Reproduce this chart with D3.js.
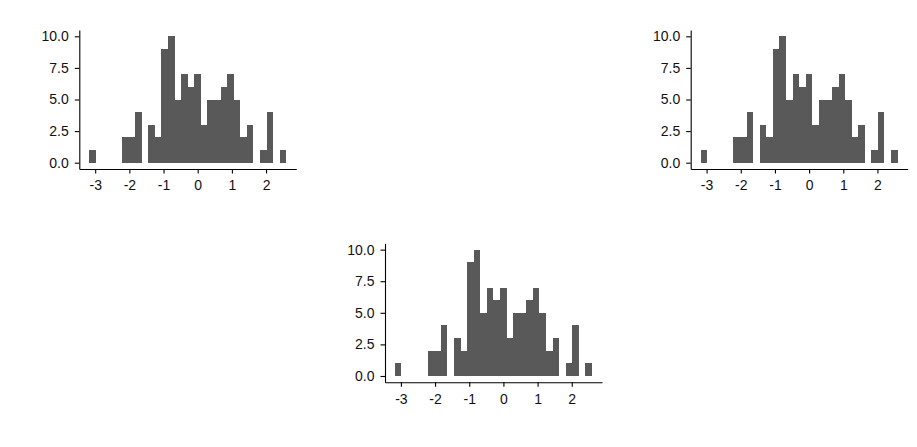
<!DOCTYPE html>
<html>
<head>
<meta charset="utf-8">
<script src="https://cdnjs.cloudflare.com/ajax/libs/d3/7.8.5/d3.min.js"></script>
<style>
  body { margin: 0; background: #fff; }
  .axis text { font-family: "Liberation Sans", Arial, sans-serif; font-size: 14px; fill: #111; }
  .axis path, .axis line { stroke: #000; stroke-width: 1.1px; }
</style>
</head>
<body>
<svg width="917" height="447"></svg>
<script>
// histogram counts (30 bins), same sample in all three panels
var counts = [1, 0, 0, 0, 0, 2, 2, 4, 0, 3, 2, 9, 10, 5, 7, 6, 7, 3, 5, 5, 6, 7, 5, 2, 3, 0, 1, 4, 0, 1];
var binStart = -3.176;
var binWidth = 0.1922;
var xTicks = [-3, -2, -1, 0, 1, 2];
var yTicks = [0, 2.5, 5, 7.5, 10];

var bins = counts.map(function (c, i) {
    return { x0: binStart + i * binWidth, x1: binStart + (i + 1) * binWidth, n: c };
});

var svg = d3.select("svg");

// left/top corners of the three panels
var panels = [
    { left: 79.3, top: 30 },
    { left: 690.7, top: 30 },
    { left: 385, top: 243.3 }
];
var pw = 217, ph = 139;

var x = d3.scaleLinear().domain([-3.465, 2.885]).range([0, pw]);
var y = d3.scaleLinear().domain([-0.5, 10.5]).range([ph, 0]);

panels.forEach(function (p) {
    var g = svg.append("g")
        .attr("transform", "translate(" + p.left + "," + p.top + ")");

    g.selectAll("rect")
        .data(bins.filter(function (d) { return d.n > 0; }))
        .enter().append("rect")
        .attr("x", function (d) { return x(d.x0); })
        .attr("width", function (d) { return x(d.x1) - x(d.x0); })
        .attr("y", function (d) { return y(d.n); })
        .attr("height", function (d) { return y(0) - y(d.n); })
        .attr("fill", "#595959")
        .attr("shape-rendering", "crispEdges");

    g.append("g")
        .attr("class", "axis")
        .attr("transform", "translate(0," + ph + ")")
        .call(d3.axisBottom(x).tickValues(xTicks).tickFormat(d3.format("d"))
            .tickSize(4.5).tickSizeOuter(0).tickPadding(7));

    g.append("g")
        .attr("class", "axis")
        .call(d3.axisLeft(y).tickValues(yTicks).tickFormat(d3.format(".1f"))
            .tickSize(4.5).tickSizeOuter(0).tickPadding(6));
});

// minus signs as plain hyphens like the reference
svg.selectAll(".axis text").text(function () {
    return this.textContent.replace("\u2212", "-");
});
</script>
</body>
</html>
